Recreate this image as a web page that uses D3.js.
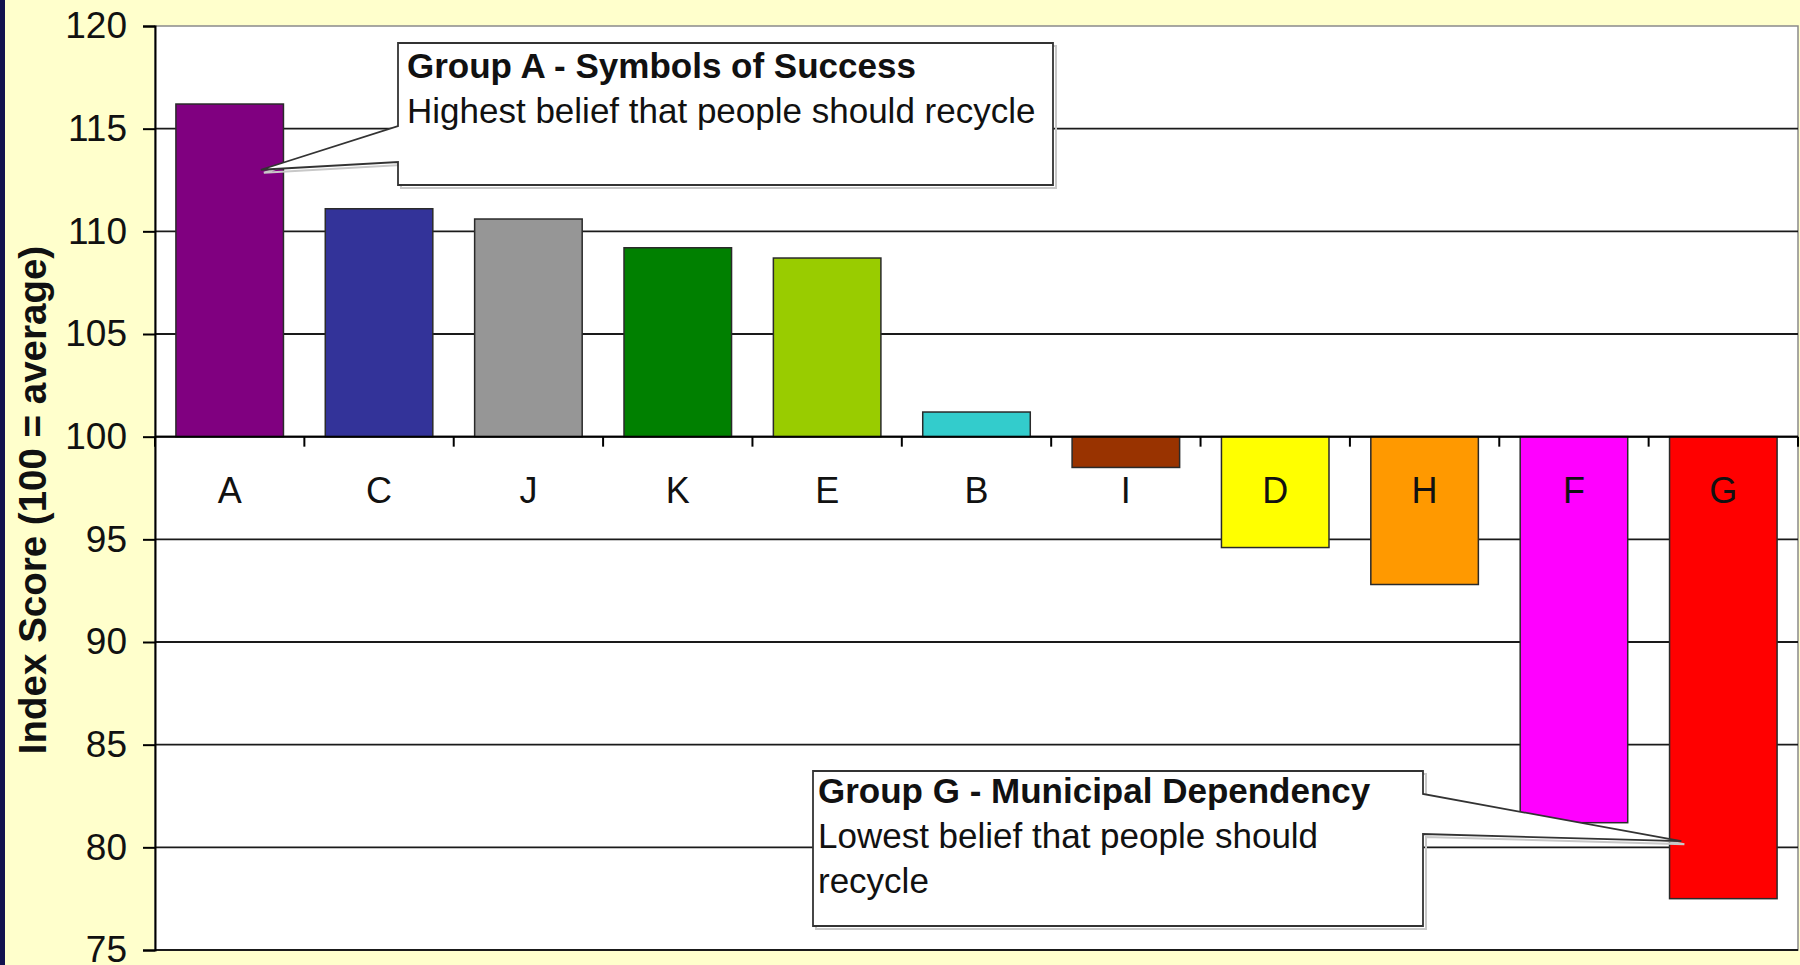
<!DOCTYPE html>
<html lang="en">
<head>
  <meta charset="UTF-8" />
  <title>Index Score by Group</title>
  <style>
    body { margin: 0; background: #ffffcc; }
    svg { display: block; font-family: "Liberation Sans", Arial, sans-serif; }
  </style>
</head>
<body>
  <div id="chart"></div>

  <script src="https://d3js.org/d3.v7.min.js"></script>

  <script>
    // values (100 = average)
    const categories = ["A", "C", "J", "K", "E", "B", "I", "D", "H", "F", "G"];
    const scores = [116.2, 111.1, 110.6, 109.2, 108.7, 101.2, 98.5, 94.6, 92.8, 81.2, 77.5];
    const barColors = ["#800080", "#333399", "#969696", "#008000", "#99cc00", "#33cccc",
                       "#993300", "#ffff00", "#ff9900", "#ff00ff", "#ff0000"];
    const yTicks = [75, 80, 85, 90, 95, 100, 105, 110, 115, 120];
    const yTitle = "Index Score (100 = average)";

    const noteA = ["Group A - Symbols of Success", "Highest belief that people should recycle"];
    const noteG = ["Group G - Municipal Dependency", "Lowest belief that people should", "recycle"];

    const W = 1800, H = 965;
    const plot = { left: 155, right: 1798, top: 26, bottom: 950 };

    const svg = d3.select("#chart").append("svg")
      .attr("width", W)
      .attr("height", H);

    svg.append("rect").attr("width", W).attr("height", H).attr("fill", "#ffffcc");
    svg.append("rect").attr("width", 5).attr("height", H).attr("fill", "#12124e");

    const x = d3.scaleBand()
      .domain(categories)
      .range([plot.left, plot.right])
      .paddingInner(0.28)
      .paddingOuter(0.14);

    const y = d3.scaleLinear()
      .domain([75, 120])
      .range([plot.bottom, plot.top]);

    // plot area
    svg.append("rect")
      .attr("x", plot.left)
      .attr("y", plot.top)
      .attr("width", plot.right - plot.left)
      .attr("height", plot.bottom - plot.top)
      .attr("fill", "#fff")
      .attr("stroke", "#8a8a8a")
      .attr("stroke-width", 1.5);

    // gridlines
    svg.append("g")
      .selectAll("line")
      .data(yTicks.filter(d => d < 120))
      .join("line")
      .attr("x1", plot.left)
      .attr("x2", plot.right)
      .attr("y1", d => y(d))
      .attr("y2", d => y(d))
      .attr("stroke", "#1a1a1a")
      .attr("stroke-width", 1.8);

    // bars, hanging from 100
    svg.append("g")
      .selectAll("rect")
      .data(categories)
      .join("rect")
      .attr("x", d => x(d))
      .attr("width", x.bandwidth())
      .attr("y", (d, i) => y(Math.max(scores[i], 100)))
      .attr("height", (d, i) => Math.abs(y(scores[i]) - y(100)))
      .attr("fill", (d, i) => barColors[i])
      .attr("stroke", "#2a2a2a")
      .attr("stroke-width", 1.5);

    // y axis
    const yAxis = svg.append("g")
      .attr("transform", `translate(${plot.left},0)`)
      .call(d3.axisLeft(y).tickValues(yTicks).tickSize(12).tickPadding(16).tickFormat(d3.format("d")));
    yAxis.select(".domain").attr("stroke", "#000").attr("stroke-width", 2);
    yAxis.selectAll(".tick line").attr("stroke", "#000").attr("stroke-width", 2);
    yAxis.selectAll(".tick text")
      .attr("font-size", "37px")
      .attr("fill", "#111");

    // x axis at 100: ticks between categories, labels in the middle
    const step = x.step();
    const gap = step - x.bandwidth();
    const bounds = categories.map(d => x(d) - gap / 2).concat([plot.right]);

    svg.append("line")
      .attr("x1", plot.left)
      .attr("x2", plot.right)
      .attr("y1", y(100))
      .attr("y2", y(100))
      .attr("stroke", "#000")
      .attr("stroke-width", 2);

    svg.append("g")
      .selectAll("line")
      .data(bounds)
      .join("line")
      .attr("x1", d => d)
      .attr("x2", d => d)
      .attr("y1", y(100))
      .attr("y2", y(100) + 10)
      .attr("stroke", "#000")
      .attr("stroke-width", 2);

    svg.append("g")
      .selectAll("text")
      .data(categories)
      .join("text")
      .attr("x", d => x(d) + x.bandwidth() / 2)
      .attr("y", y(100) + 66)
      .attr("text-anchor", "middle")
      .attr("font-size", "36px")
      .attr("fill", "#111")
      .text(d => d);

    // axis title
    svg.append("text")
      .attr("transform", `translate(46,${(plot.top + plot.bottom) / 2 + 12}) rotate(-90)`)
      .attr("text-anchor", "middle")
      .attr("font-size", "38.5px")
      .attr("font-weight", "bold")
      .attr("fill", "#111")
      .text(yTitle);

    // callout boxes
    function callout(lines, box, tip, side, join, pad, first) {
      const [x0, y0, x1, y1] = box;
      let pts;
      if (side === "left") {
        pts = [[x0, y0], [x1, y0], [x1, y1], [x0, y1], [x0, join[1]], tip, [x0, join[0]]];
      } else {
        pts = [[x0, y0], [x1, y0], [x1, join[0]], tip, [x1, join[1]], [x1, y1], [x0, y1]];
      }
      const path = "M" + pts.map(p => p.join(",")).join("L") + "Z";
      const g = svg.append("g");
      g.append("path")
        .attr("d", path)
        .attr("transform", "translate(3,3)")
        .attr("fill", "none")
        .attr("stroke", "#c8c8c8")
        .attr("stroke-width", 2);
      g.append("path")
        .attr("d", path)
        .attr("fill", "#fff")
        .attr("stroke", "#333")
        .attr("stroke-width", 1.8)
        .attr("stroke-linejoin", "miter");
      g.selectAll("text")
        .data(lines)
        .join("text")
        .attr("x", x0 + pad)
        .attr("y", (d, i) => y0 + first + i * 45)
        .attr("font-size", "35px")
        .attr("font-weight", (d, i) => i === 0 ? "bold" : "normal")
        .attr("fill", "#111")
        .text(d => d);
    }

    callout(noteA, [398, 43, 1053, 185],
      [x("A") + x.bandwidth() * 0.79, y(113)], "left", [126, 162], 9, 35);
    callout(noteG, [813, 771, 1423, 926],
      [x("G") + x.bandwidth() * 0.11, y(80.3)], "right", [794, 834], 5, 31.5);
  </script>
</body>
</html>
